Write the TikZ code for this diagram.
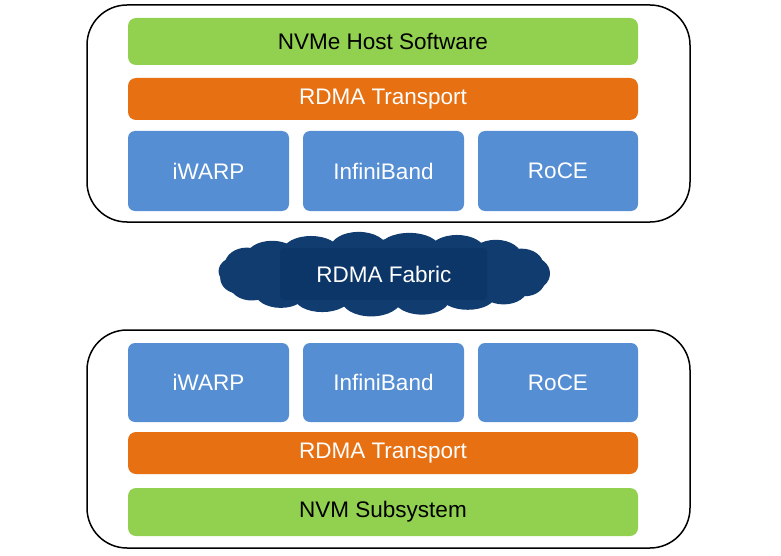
\documentclass[tikz,border=0pt]{standalone}
\usepackage{fontspec}
\setmainfont{Liberation Sans}
\definecolor{lgreen}{RGB}{146,208,80}
\definecolor{lorange}{RGB}{230,112,18}
\definecolor{lblue}{RGB}{86,142,212}
\definecolor{navy}{RGB}{16,60,112}
\definecolor{navyin}{RGB}{12,54,104}
\begin{document}
\begin{tikzpicture}[x=1pt,y=-1pt,
  outer/.style={draw=black,line width=1.5pt,rounded corners=40pt},
  bar/.style={rounded corners=8pt},
  lbl/.style={font=\fontsize{22.5}{26}\selectfont},
]
\useasboundingbox (0,0) rectangle (781,556);
% top stack
\draw[outer] (87,5) rectangle (690,222);
\fill[lgreen,bar] (128,18) rectangle (638,65);
\node[lbl,text=black] (host) at (383,41.5) {NVMe Host Software};
\fill[lorange,bar] (128,78) rectangle (638,120);
\node[lbl,text=white] (rtt) at (383,99) {RDMA Transport};
\fill[lblue,rounded corners=7pt] (128,131) rectangle (289,211);
\node[lbl,text=white] (iw1) at (208.5,171) {iWARP};
\fill[lblue,rounded corners=7pt] (303,131) rectangle (464,211);
\node[lbl,text=white] (ib1) at (383.5,171) {InfiniBand};
\fill[lblue,rounded corners=7pt] (478,131) rectangle (638,211);
\node[lbl,text=white] (rc1) at (558,171) {RoCE};
% cloud
\fill[navy] (384,273.5) ellipse [x radius=150, y radius=34];
\foreach \t/\rx/\ry in {0/20/17,20/22/16,40/26/17,60/28/16,80/30/15,100/28/16,120/28/15,140/26/16,160/22/17,175/20/15,190/20/16,205/22/16,225/26/16,245/28/15,265/30/17,285/28/16,305/28/15,325/24/16,345/20/16}{
  \fill[navy] ({384+146*cos(\t)},{273.5-26*sin(\t)}) ellipse [x radius=\rx, y radius=\ry];
}
\fill[navyin,rounded corners=4pt] (280,248) rectangle (487,300);
\node[lbl,text=white] (fab) at (384,274) {RDMA Fabric};
% bottom stack
\draw[outer] (87,330) rectangle (690,548);
\fill[lblue,rounded corners=7pt] (128,343) rectangle (289,422);
\node[lbl,text=white] (iw2) at (208.5,382.5) {iWARP};
\fill[lblue,rounded corners=7pt] (303,343) rectangle (464,422);
\node[lbl,text=white] (ib2) at (383.5,382.5) {InfiniBand};
\fill[lblue,rounded corners=7pt] (478,343) rectangle (638,422);
\node[lbl,text=white] (rc2) at (558,382.5) {RoCE};
\fill[lorange,bar] (128,432) rectangle (638,474);
\node[lbl,text=white] (rtb) at (383,453) {RDMA Transport};
\fill[lgreen,bar] (128,488) rectangle (638,536);
\node[lbl,text=black] (sub) at (383,512) {NVM Subsystem};
\end{tikzpicture}
\end{document}
